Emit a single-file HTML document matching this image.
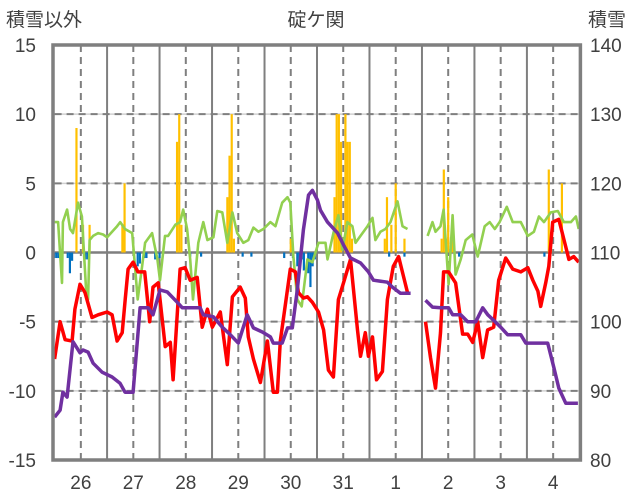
<!DOCTYPE html>
<html><head><meta charset="utf-8"><style>
html,body{margin:0;padding:0;background:#fff;}
svg{display:block;font-family:"Liberation Sans","Noto Sans CJK JP",sans-serif;}
</style></head><body>
<svg id="chart" width="636" height="501" viewBox="0 0 636 501" xmlns="http://www.w3.org/2000/svg">
<text x="6" y="26" font-size="19" fill="#404040">積雪以外</text>
<text x="316" y="26" font-size="19" fill="#404040" text-anchor="middle">碇ケ関</text>
<text x="588" y="26" font-size="19" fill="#404040">積雪</text>
<g id="grid"></g><g id="bars"></g><g id="lines"></g><g id="axes"></g>
</svg>
<script>
const dayLabels=["26","27","28","29","30","31","1","2","3","4"];
const leftTicks=[15,10,5,0,-5,-10,-15];
const rightTicks=[140,130,120,110,100,90,80];
const redT=[0,2.5,4.8,8,9.3,11.6,13.9,17.1,19.9,24,26.3,28.6,30.9,32.3,33.6,35.9,38.1,41.2,43.5,45,47.4,50.6,52.9,54.2,57.4,59.7,62,65.2,67.5,69.9,72.1,75.8,79,81.3,84.9,87.2,88.6,90.9,94.1,97.3,100,101.9,103.2,105.5,107.8,110.1,111.5,113.8,115.6,117.9,120.7,123,125.2,127.5,129.8,132.1,135.3,138.5,139.9,142.1,143.5,145.4,147.2,149.9,152.2,154.9,157.3,159.5,161.4,null,169.6,171.9,174.2,176.5,177.9,180.2,183.4,186.6,188.9,191.2,193.5,195.8,198,200.8,203.1,206.3,209.5,213.2,216.4,218.7,221,222.3,224.6,226,227.8,230.6,233.8,235.2,237.4,239.7];
const redV=[-7.7,-5,-6.3,-6.4,-4.1,-2.3,-2.9,-4.7,-4.5,-4.3,-4.5,-6.4,-5.8,-3.4,-1.2,-0.7,-1.4,-1.4,-5,-2.5,-2.2,-6.8,-6.5,-9.2,-1.2,-1.1,-2.0,-1.8,-5.4,-4.1,-5.4,-4.3,-8.1,-3.2,-2.5,-3.3,-6.1,-7.7,-9.4,-6.4,-10.1,-10.1,-6.4,-3.8,-1.2,-1.4,-2.9,-3.3,-3.2,-3.6,-4.3,-5.6,-8.5,-9.0,-3.4,-2.2,-0.5,-5.6,-7.5,-5.8,-7.5,-6.1,-9.2,-8.6,-3.4,-1.0,-0.3,-1.7,-2.9,null,-5.0,-7.6,-9.8,-5.8,-1.4,-1.4,-2.2,-5.9,-5.9,-6.5,-5.0,-7.6,-5.6,-5.4,-2.0,-0.4,-1.2,-1.4,-1.1,-2.0,-2.8,-3.9,-2.2,-1.0,2.2,2.4,0.4,-0.5,-0.3,-0.7];
const purT=[0,2.5,3.8,5.7,8.4,11.6,13,15.3,17.6,21.7,26.3,29.9,32.2,35.9,39.1,42.8,45,48.2,51.5,56.1,58.4,66.6,68,72.6,76.7,80.4,84,88.1,90.9,95,98.7,100,104.1,106.5,108.7,111,113.8,116.1,117.9,120.2,121.6,124.8,129.4,132.1,135.3,139.9,143.5,145.8,152.2,154.5,158.2,162.8,null,169.6,172.8,176.5,180.2,182,185.7,188.9,192.6,195.8,198.1,200.8,204,207.2,213.2,215.5,225.5,228.3,230.6,233.8,239.3];
const purV=[86.2,87.2,89.8,89.1,97.1,95.5,95.9,95.6,94.0,92.7,92.0,91.1,89.8,89.8,102.0,102.0,101.0,104.6,104.3,102.8,102.0,102.0,101.0,100.7,99.2,98.1,96.9,101.0,99.1,98.5,97.8,96.9,96.9,99.1,99.1,104.6,113.3,118.3,119.0,117.6,116.1,114.4,112.8,111.1,109.2,108.5,107.2,106.0,105.7,105.0,104.1,104.1,null,103.1,102.1,102.0,102.0,101.0,101.0,100.0,100.0,102.0,101.0,100.2,99.2,98.1,98.1,96.9,96.9,93.4,90.4,88.2,88.2];
const grnT=[0,1.6,3.4,3.8,5.7,7.1,8.4,10.7,12.5,14.4,15.3,16,17.6,19.9,22.2,24,26.3,28.6,30,32.2,35.5,36.5,38,40,41.4,44.6,47,48.2,50.5,51.9,55.2,57.4,58.8,60.6,62,63.3,65.7,68,69.9,72.6,74.4,76.7,79,81.3,83.5,86.3,88.6,90.9,93.2,95.5,98.7,101,104.1,106.5,107.8,109.2,111,113,115.6,117.9,120.7,123.9,124.8,127.5,129.8,131.6,133.9,136.2,137.6,139.9,143.1,145.4,146.7,149,151.3,153.6,156.8,159.1,161.4,null,170.6,172.8,174.2,176.5,177.9,180.2,182,183.4,185.7,188,191,193.5,196.7,199,201.3,203.5,206.8,209.5,213.2,216.4,219.2,221.5,223.8,226.9,230.1,232.9,236.1,238.4,239.7];
const grnV=[2.2,2.2,-2.2,2.2,3.1,1.7,1.4,3.6,2.6,-2.7,-3.4,0.9,1.2,1.4,1.3,1.1,1.5,1.9,2.2,1.7,1.4,-0.5,-3.4,-1.0,0.7,1.4,-0.5,-2.0,1.2,1.2,2.0,2.2,3.1,1.7,-0.5,-3.4,0.7,2.2,0.9,1.1,3.0,2.9,0.7,2.9,1.4,0.7,0.9,1.8,1.5,1.7,2.2,1.9,3.6,4.0,3.6,-0.3,-3.4,-3.9,-0.5,-0.7,0.7,0.7,-0.5,1.4,2.7,0.2,2.2,1.9,0.7,1.2,1.9,2.5,0.9,1.5,1.7,2.2,3.7,1.9,1.7,null,1.2,2.2,1.5,1.9,3.1,-2.3,2.7,-1.6,-0.5,0.9,1.3,-0.3,1.9,2.2,1.7,2.2,3.3,2.2,2.2,1.2,1.5,2.6,2.2,2.9,3.0,2.2,2.2,2.6,1.7];
const orangeH=[10,13,16,31,32,56,57,58,79,80,81,82,108,128,129,130,131,133,134,135,136,151,152,154,156,160,177,178,179,180,182,226,227,232];
const orangeV=[9,2,2,2,5,8,10,2,4,7,10,1,1,4,10,10,8,10,8,8,1,1,4,2,5,1,1,6,1,4,2,6,1,5];
const blueH=[0,1,2,6,7,8,14,15,38,39,41,42,46,48,62,67,86,90,105,109,111,112,113,114,116,117,118,119,153,160,185,224];
const blueV=[-0.4,-0.4,-0.4,-0.4,-1.5,-0.6,-0.5,-0.5,-1.0,-0.8,-0.4,-0.4,-0.5,-0.4,-0.3,-0.3,-0.3,-0.3,-0.4,-0.4,-1.0,-1.5,-0.5,-1.3,-1.5,-2.5,-1.0,-0.5,-0.3,-0.3,-0.3,-0.3];

const X0=54.6,X1=579.4,YT=45,YB=460;
const xs=t=>X0+t*(X1-X0)/240;
const yL=v=>YB-(v+15)*(YB-YT)/30;
const yR=v=>YB-(v-80)*(YB-YT)/60;
const NS="http://www.w3.org/2000/svg";
function mk(tag,attrs,parent){const e=document.createElementNS(NS,tag);for(const k in attrs)e.setAttribute(k,attrs[k]);parent.appendChild(e);return e;}
const grid=document.getElementById('grid'),bars=document.getElementById('bars'),lines=document.getElementById('lines'),axes=document.getElementById('axes'),svg=document.getElementById('chart');

leftTicks.forEach(v=>{
  if(v!==15&&v!==-15&&v!==0){
    const g=mk('line',{x1:X0,x2:X1,y1:yL(v),y2:yL(v),stroke:'#d0d0d0','stroke-width':1.5},grid);
    
    const d=mk('line',{x1:X0,x2:X1,y1:yL(v),y2:yL(v),stroke:'#7f7f7f','stroke-width':2,'stroke-dasharray':'7,5'},grid);
    
  }
  const t=mk('text',{x:36,y:yL(v)+7,'font-size':19,fill:'#404040','text-anchor':'end'},axes);
  t.textContent=v;
  
});
rightTicks.forEach(v=>{
  const t=mk('text',{x:590,y:yR(v)+7,'font-size':19,fill:'#404040'},axes);
  t.textContent=v;
  
});
dayLabels.forEach((d,i)=>{
  if(i>0){const l=mk('line',{x1:xs(i*24),x2:xs(i*24),y1:YT,y2:YB,stroke:'#7f7f7f','stroke-width':2},grid);
  }
  const m=mk('line',{x1:xs(i*24+12),x2:xs(i*24+12),y1:YT,y2:YB,stroke:'#7f7f7f','stroke-width':2,'stroke-dasharray':'7,5'},grid);
  
  const t=mk('text',{x:xs(i*24+12),y:489,'font-size':19,fill:'#404040','text-anchor':'middle'},axes);
  t.textContent=d;
  
});
const bw=(X1-X0)/240;
orangeH.forEach((h,i)=>{
  const v=orangeV[i];
  const r=mk('rect',{x:xs(h)-bw/2,y:yL(v),width:bw,height:yL(0)-yL(v),fill:'#ffc000'},bars);
  
});
blueH.forEach((h,i)=>{
  const v=blueV[i];
  const r=mk('rect',{x:xs(h)-bw/2,y:yL(0),width:bw,height:yL(v)-yL(0),fill:'#0070c0'},bars);
  
});
const zl=mk('line',{x1:X0,x2:X1,y1:yL(0),y2:yL(0),stroke:'#7f7f7f','stroke-width':2.5},grid);


function path(T,V,yf){let d='',pen=false;
  for(let i=0;i<T.length;i++){if(T[i]===null||V[i]===null){pen=false;continue;}
    d+=(pen?'L':'M')+xs(T[i]).toFixed(1)+','+yf(V[i]).toFixed(1);pen=true;}
  return d;}
const pg=mk('path',{d:path(grnT,grnV,yL),fill:'none',stroke:'#92d050','stroke-width':2.6,'stroke-linejoin':'round'},lines);

const pr=mk('path',{d:path(redT,redV,yL),fill:'none',stroke:'#ff0000','stroke-width':3.5,'stroke-linejoin':'round'},lines);

const pp=mk('path',{d:path(purT,purV,yR),fill:'none',stroke:'#7030a0','stroke-width':3.5,'stroke-linejoin':'round'},lines);


const fr=mk('rect',{x:53,y:YT,width:X1-53+1,height:YB-YT,fill:'none',stroke:'#7f7f7f','stroke-width':3.5},axes);

</script>
</body></html>
